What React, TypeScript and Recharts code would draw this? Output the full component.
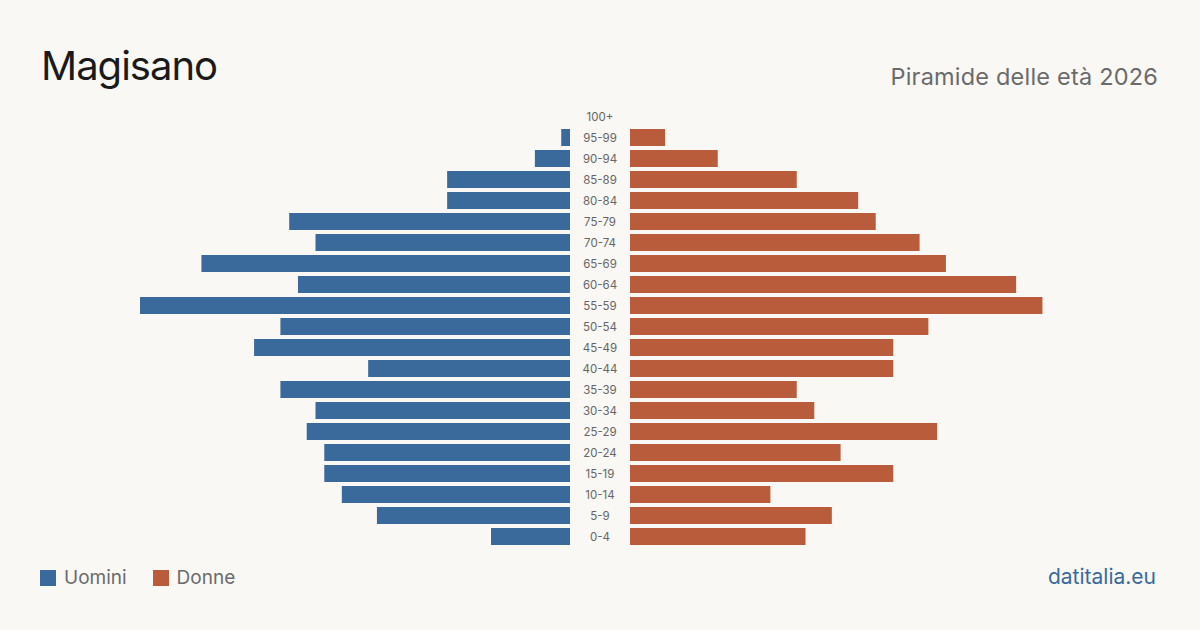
import React from 'react';
import { BarChart, Bar, XAxis, YAxis } from 'recharts';

// Fasce d'età, dall'alto (100+) verso il basso (0-4)
const ageGroups = ['100+', '95-99', '90-94', '85-89', '80-84', '75-79', '70-74', '65-69', '60-64', '55-59', '50-54', '45-49', '40-44', '35-39', '30-34', '25-29', '20-24', '15-19', '10-14', '5-9', '0-4'];
const men = [0, 1, 4, 14, 14, 32, 29, 42, 31, 49, 33, 36, 23, 33, 29, 30, 28, 28, 26, 22, 9];
const women = [0, 4, 10, 19, 26, 28, 33, 36, 44, 47, 34, 30, 30, 19, 21, 35, 24, 30, 16, 23, 20];

const MAX = 49;
const BLUE = '#3a6a9b';
const ORANGE = '#b95c3c';
const BG = '#f9f8f4';
const FONT = 'Inter, "Noto Sans", sans-serif';

const data = ageGroups.map((age, i) => ({ age, men: men[i], women: women[i] }));

const AgeTick = (props: any) => {
  const { x, y, payload } = props;
  return (
    <text x={x} y={y} dy={4} textAnchor="middle" fontSize={11.5} fill="#666" fontFamily={FONT}>
      {payload.value}
    </text>
  );
};

export default function App() {
  return (
    <div style={{ position: 'fixed', left: 0, top: 0, width: 1200, height: 630, background: BG, fontFamily: FONT, overflow: 'hidden' }}>
      <div style={{ position: 'absolute', left: 41, top: 46, fontSize: 40, color: '#1a1a1a', lineHeight: 1, letterSpacing: -1 }}>Magisano</div>
      <div style={{ position: 'absolute', right: 42, top: 65, fontSize: 23.5, color: '#6b6b6b', lineHeight: 1, letterSpacing: 0.2 }}>Piramide delle età 2026</div>

      {/* Uomini + etichette centrali */}
      <div style={{ position: 'absolute', left: 140, top: 106 }}>
        <BarChart width={490} height={441} data={data} layout="vertical" margin={{ top: 0, right: 0, bottom: 0, left: 0 }} barSize={17}>
          <XAxis type="number" domain={[0, MAX]} reversed hide />
          <YAxis type="category" dataKey="age" orientation="right" width={60} axisLine={false} tickLine={false} tickSize={0} tickMargin={30} tick={<AgeTick />} interval={0} />
          <Bar dataKey="men" fill={BLUE} isAnimationActive={false} />
        </BarChart>
      </div>

      {/* Donne */}
      <div style={{ position: 'absolute', left: 630, top: 106 }}>
        <BarChart width={430} height={441} data={data} layout="vertical" margin={{ top: 0, right: 0, bottom: 0, left: 0 }} barSize={17}>
          <XAxis type="number" domain={[0, MAX]} hide />
          <YAxis type="category" dataKey="age" hide />
          <Bar dataKey="women" fill={ORANGE} isAnimationActive={false} />
        </BarChart>
      </div>

      <div style={{ position: 'absolute', left: 40, top: 566, display: 'flex', alignItems: 'center', fontSize: 19, color: '#6b6b6b' }}>
        <span style={{ width: 16, height: 16, background: BLUE, display: 'inline-block', marginRight: 8 }} />
        <span style={{ marginRight: 26 }}>Uomini</span>
        <span style={{ width: 16, height: 16, background: ORANGE, display: 'inline-block', marginRight: 8 }} />
        <span>Donne</span>
      </div>
      <div style={{ position: 'absolute', right: 44, top: 564, fontSize: 21, color: BLUE }}>datitalia.eu</div>
    </div>
  );
}
